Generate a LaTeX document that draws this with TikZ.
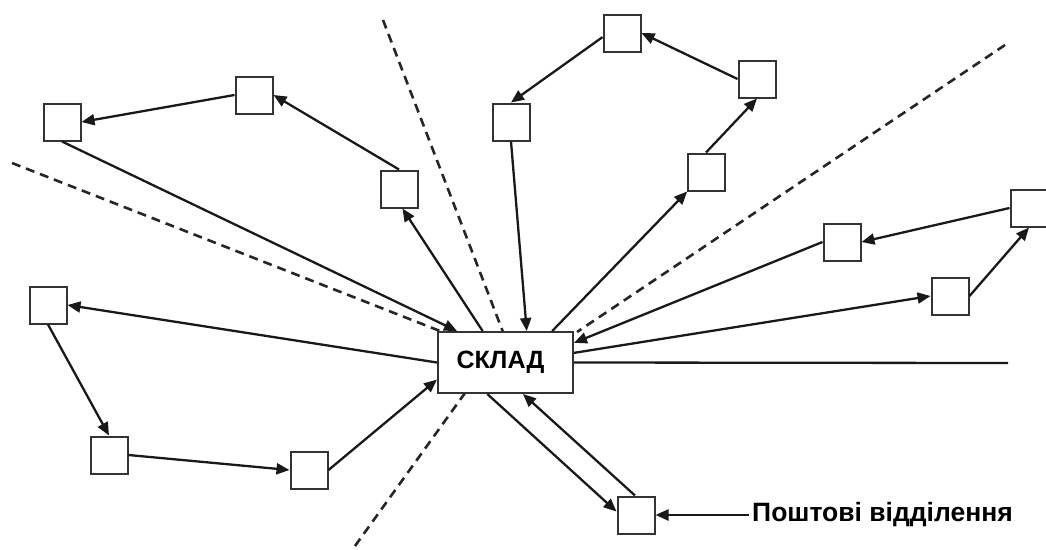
\documentclass[tikz,border=0pt]{standalone}
\usepackage{fontspec}
\setmainfont{Liberation Sans}
\usetikzlibrary{arrows.meta}
\begin{document}
\begin{tikzpicture}[x=1pt,y=-1pt,
  sq/.style={draw=black!80, line width=2pt, fill=white, minimum width=37pt, minimum height=37pt, inner sep=0pt},
  hub/.style={draw=black!80, line width=2pt, fill=white, minimum width=135pt, minimum height=61pt, inner sep=0pt, font=\bfseries\fontsize{25}{25}\selectfont},
  conn/.style={line width=2.3pt, draw=black!90},
  arr/.style={conn, -{Triangle[length=13pt,width=11pt]}},
  sep/.style={line width=2.6pt, draw=black!85, dash pattern=on 9pt off 6pt},
  lbl/.style={font=\bfseries\fontsize{26.5}{26.5}\selectfont, inner sep=3pt, anchor=west}
]
\useasboundingbox (0,0) rectangle (1046,549);

% coordinates for the hub and the free ends of the dashed lines
\coordinate (hubc) at (505.5,362.5);
\coordinate (d1) at (12,163);
\coordinate (d2) at (383,20);
\coordinate (d3) at (1005,45);
\coordinate (d4) at (355,546);
\coordinate (hz) at (1008,363);

% dashed sector borders
\draw[sep] (d1) -- (440,331);
\draw[sep] (d2) -- (503,332);
\draw[sep] (d3) -- (577,332);
\draw[sep] (d4) -- (465,393);

% small boxes
\node[sq] (A1) at (62,122) {};
\node[sq] (A2) at (254,95) {};
\node[sq] (A3) at (399,189) {};
\node[sq] (B1) at (48,305) {};
\node[sq] (B2) at (109,455) {};
\node[sq] (B3) at (309,470) {};
\node[sq] (C1) at (622,33) {};
\node[sq] (C2) at (511,122) {};
\node[sq] (C3) at (757,79) {};
\node[sq] (C4) at (706,172) {};
\node[sq] (D1) at (842,242) {};
\node[sq] (D2) at (1029,208) {};
\node[sq] (D3) at (950,296) {};
\node[sq] (E) at (636,515) {};

% hub
\node[hub] (S) at (hubc) {\hspace*{-10pt}СКЛАД};

% upper-left route
\draw[arr] (A1.south) -- (S.147.3);
\draw[arr] (A2.west) -- (A1.east);
\draw[arr] (A3.north) -- (A2.east);
\draw[arr] (S.126.4) -- (A3.-80);

% lower-left route
\draw[arr] (S.west) -- (B1.east);
\draw[arr] (B1.south) -- (B2.north);
\draw[arr] (B2.east) -- (B3.west);
\draw[arr] (B3.east) -- (S.194.5);

% top route
\draw[arr] (C2.south) -- (S.56.1);
\draw[arr] (C1.192) -- (C2.north);
\draw[arr] (C3.west) -- (C1.east);
\draw[arr] (C4.north) -- (C3.south);
\draw[arr] (S.34.4) -- (C4);

% right route
\draw[arr] (D1.west) -- (S.16.1);
\draw[arr] (D2.west) -- (D1.east);
\draw[arr] (S.8) -- (D3.west);
\draw[arr] (D3.east) -- (D2.south);

% horizontal line
\draw[conn] (S.east) -- (hz);

% post offices
\draw[arr] (S.240.2) -- (E.170);
\draw[arr] (E.93) -- (S.299.8);
\node[lbl] (L) at (749,515) {Поштові відділення};
\draw[arr] (L.west) -- (E.east);
\end{tikzpicture}
\end{document}
